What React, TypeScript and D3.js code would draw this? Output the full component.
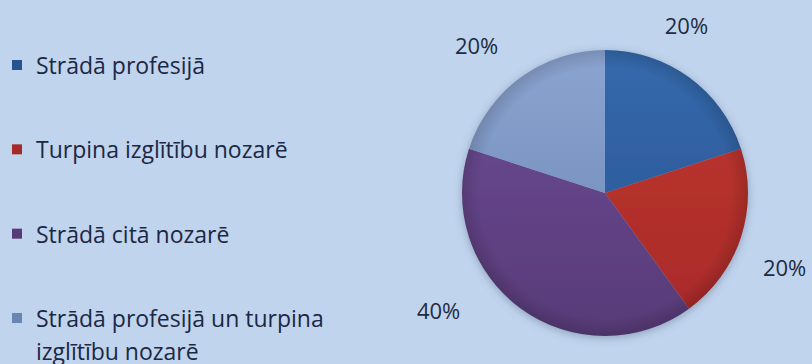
import React, { useEffect, useRef } from 'react';
import * as d3 from 'd3';

const categories = [
  'Strādā profesijā',
  'Turpina izglītību nozarē',
  'Strādā citā nozarē',
  'Strādā profesijā un turpina izglītību nozarē',
];
const legendLines = [
  ['Strādā profesijā'],
  ['Turpina izglītību nozarē'],
  ['Strādā citā nozarē'],
  ['Strādā profesijā un turpina', 'izglītību nozarē'],
];
const shares = [20, 20, 40, 20];
const colorsTop = ['#3569ad', '#c0362f', '#6f4d97', '#8ba4d0'];
const colorsBottom = ['#27548e', '#a72a29', '#573a77', '#6b85b3'];
// label nudges (Excel "best fit" placement)
const labelNudge = [[-32, -12], [-4, 14], [-53, -39], [-15, 8]];

const W = 812;
const H = 364;

const App: React.FC = () => {
  const svgRef = useRef<SVGSVGElement>(null);

  useEffect(() => {
    if (!svgRef.current) return;
    const svg = d3.select(svgRef.current);
    svg.selectAll('*').remove();

    const cx = 605;
    const cy = 193;
    const r = 143;

    const defs = svg.append('defs');
    shares.forEach((_, i) => {
      const g = defs.append('linearGradient')
        .attr('id', `grad${i}`)
        .attr('gradientUnits', 'userSpaceOnUse')
        .attr('x1', 0).attr('y1', -r)
        .attr('x2', 0).attr('y2', r);
      g.append('stop').attr('offset', '0%').attr('stop-color', colorsTop[i]);
      g.append('stop').attr('offset', '100%').attr('stop-color', colorsBottom[i]);
    });
    const rim = defs.append('radialGradient').attr('id', 'rim')
      .attr('gradientUnits', 'userSpaceOnUse')
      .attr('cx', 0).attr('cy', 0).attr('r', r);
    rim.append('stop').attr('offset', '88%').attr('stop-color', '#000').attr('stop-opacity', 0);
    rim.append('stop').attr('offset', '100%').attr('stop-color', '#000').attr('stop-opacity', 0.14);

    const f = defs.append('filter').attr('id', 'shadow')
      .attr('x', '-20%').attr('y', '-20%').attr('width', '140%').attr('height', '140%');
    f.append('feDropShadow')
      .attr('dx', 0).attr('dy', 2).attr('stdDeviation', 4)
      .attr('flood-color', '#50607a').attr('flood-opacity', 0.45);

    svg.append('rect').attr('width', W).attr('height', H).attr('fill', '#c1d4ee');

    const pie = d3.pie<number>().sort(null).value(d => d);
    const arcs = pie(shares);
    const arc = d3.arc<d3.PieArcDatum<number>>().innerRadius(0).outerRadius(r);
    const labelArc = d3.arc<d3.PieArcDatum<number>>().innerRadius(r + 50).outerRadius(r + 50);

    const total = d3.sum(shares);

    const g = svg.append('g').attr('transform', `translate(${cx},${cy})`);
    const slices = g.append('g').attr('filter', 'url(#shadow)');
    slices.selectAll('path')
      .data(arcs)
      .enter()
      .append('path')
      .attr('d', arc)
      .attr('fill', (_, i) => `url(#grad${i})`);
    g.append('circle').attr('r', r).attr('fill', 'url(#rim)');

    g.selectAll('text')
      .data(arcs)
      .enter()
      .append('text')
      .attr('transform', (d, i) => {
        const [x, y] = labelArc.centroid(d);
        return `translate(${x + labelNudge[i][0]},${y + labelNudge[i][1]})`;
      })
      .attr('text-anchor', 'middle')
      .attr('dominant-baseline', 'central')
      .attr('font-family', 'Open Sans, sans-serif')
      .attr('font-size', 22)
      .attr('fill', '#1f2b40')
      .text(d => `${Math.round((d.value / total) * 100)}%`);

    // legend
    const legend = svg.append('g').attr('transform', 'translate(12,0)');
    const rowY = d3.scalePoint<string>().domain(categories).range([65, 318]);
    categories.forEach((c, i) => {
      const y = rowY(c) || 0;
      legend.append('rect')
        .attr('x', 0).attr('y', y - 5)
        .attr('width', 10).attr('height', 10)
        .attr('fill', colorsBottom[i]);
      const t = legend.append('text')
        .attr('x', 24).attr('y', y)
        .attr('dominant-baseline', 'central')
        .attr('font-family', 'Open Sans, sans-serif')
        .attr('font-size', 23)
        .attr('fill', '#1b2844');
      legendLines[i].forEach((line, j) => {
        t.append('tspan').attr('x', 24).attr('dy', j === 0 ? 0 : 33).text(line);
      });
    });
  }, []);

  return (
    <svg
      ref={svgRef}
      width={W}
      height={H}
      style={{ position: 'absolute', left: 0, top: 0 }}
    />
  );
};

export default App;
